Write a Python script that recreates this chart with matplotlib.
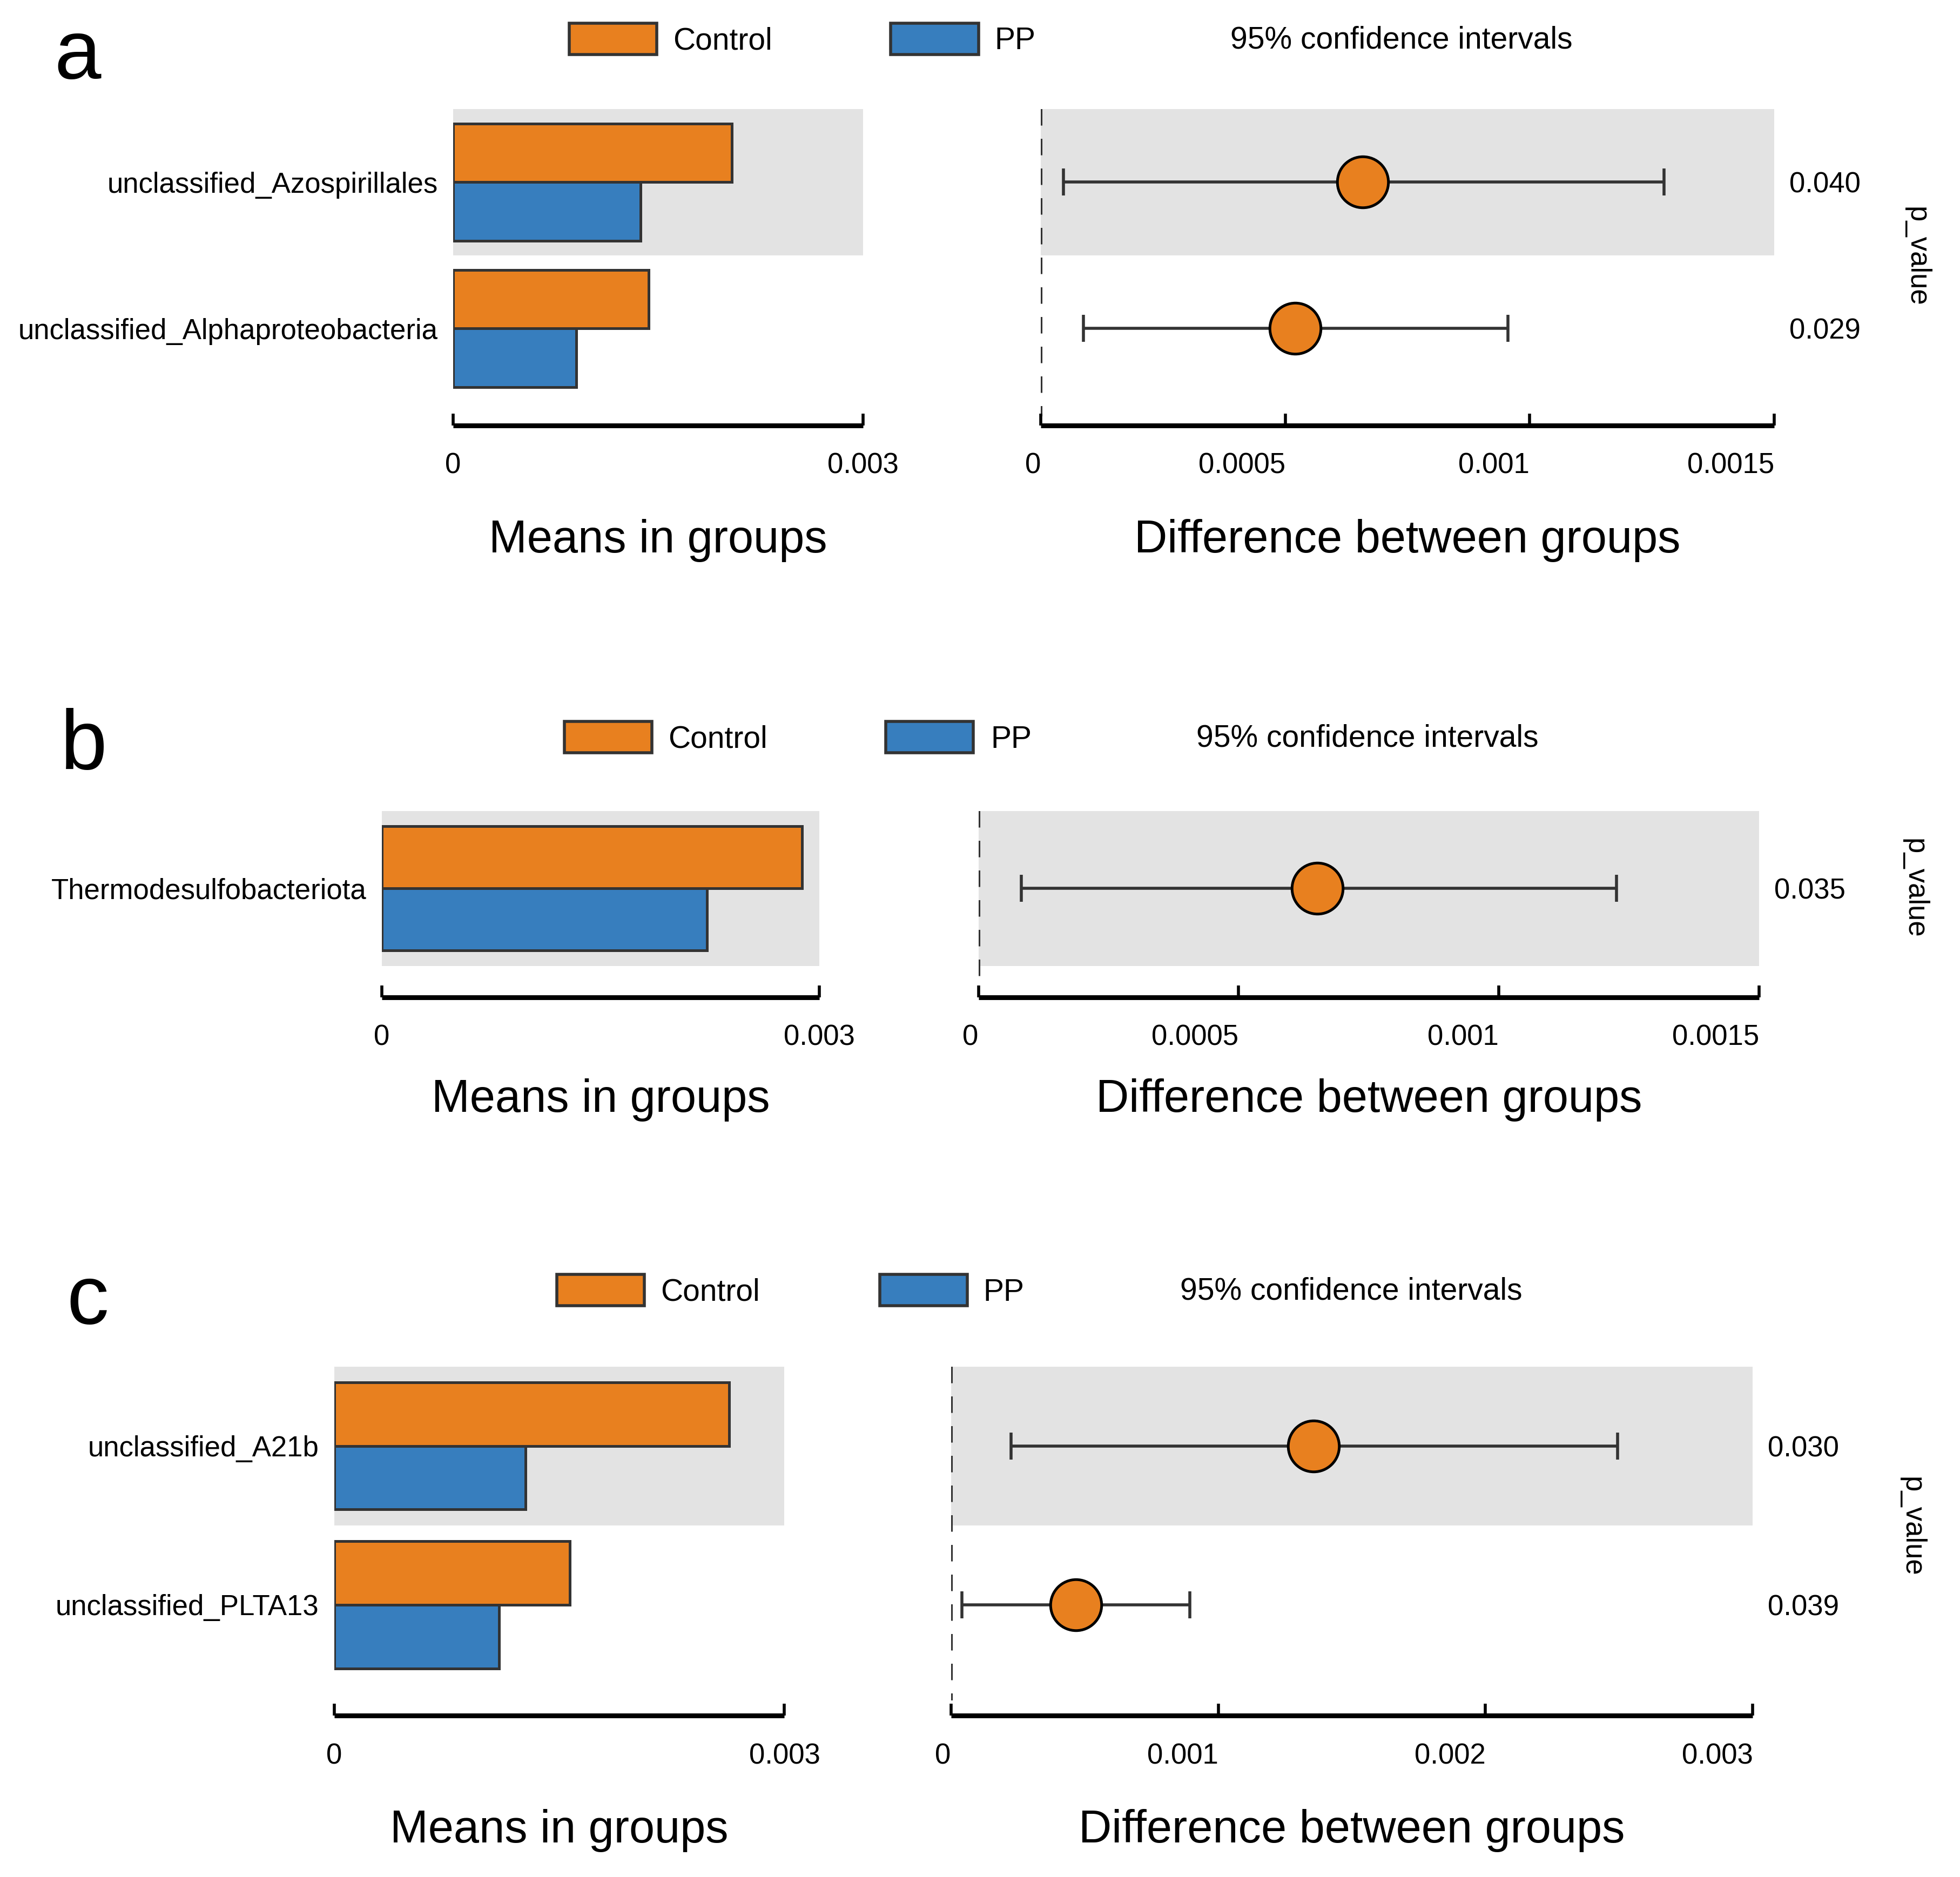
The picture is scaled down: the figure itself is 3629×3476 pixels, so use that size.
import matplotlib.pyplot as plt
from matplotlib.patches import Rectangle

plt.rcParams['font.family'] = ['Liberation Sans', 'DejaVu Sans']

# ---- data ----
a_taxa = ['unclassified_Azospirillales', 'unclassified_Alphaproteobacteria']
a_control = [0.00204, 0.00143]
a_pp = [0.00137, 0.00090]
a_diff = [0.000658, 0.00052]
a_low = [0.000046, 0.000087]
a_high = [0.001275, 0.000955]
a_pval = ['0.040', '0.029']
a_ticks = [0, 0.0005, 0.001, 0.0015]
a_ticklabels = ['0', '0.0005', '0.001', '0.0015']

b_taxa = ['Thermodesulfobacteriota']
b_control = [0.00288]
b_pp = [0.00223]
b_diff = [0.000651]
b_low = [0.000082]
b_high = [0.001226]
b_pval = ['0.035']
b_ticks = [0, 0.0005, 0.001, 0.0015]
b_ticklabels = ['0', '0.0005', '0.001', '0.0015']

c_taxa = ['unclassified_A21b', 'unclassified_PLTA13']
c_control = [0.00263, 0.00157]
c_pp = [0.001275, 0.00110]
c_diff = [0.001357, 0.000468]
c_low = [0.000225, 0.000042]
c_high = [0.002494, 0.000894]
c_pval = ['0.030', '0.039']
c_ticks = [0, 0.001, 0.002, 0.003]
c_ticklabels = ['0', '0.001', '0.002', '0.003']

means_max = 0.003

ORANGE = '#E8801F'
BLUE = '#377EBE'
BG = '#E3E3E3'
EDGE = '#333333'

# layout in reference pixels (as measured on the scaled-down preview)
W, H = 1567.0, 1500.0

fig = plt.figure(figsize=(18.15, 17.38), dpi=200)


def fx(x):
    return x / W


def fy(y):
    return 1 - y / H


def add_ax(x0, y0, x1, y1):
    return fig.add_axes([fx(x0), fy(y1), (x1 - x0) / W, (y1 - y0) / H])


def style_axis(ax, ticks, labels, ylim_bottom):
    ax.set_ylim(ylim_bottom, -0.5)
    for s in ['top', 'left', 'right']:
        ax.spines[s].set_visible(False)
    ax.spines['bottom'].set_linewidth(3.2)
    ax.spines['bottom'].set_capstyle('butt')
    ax.set_xticks(ticks)
    ax.set_xticklabels(labels, fontsize=19)
    ax.tick_params(axis='x', direction='in', length=8, width=2, pad=18)
    ax.set_facecolor('none')


def panel(letter, taxa, control, pp, diff, low, high, pval, ticks, ticklabels, lay):
    n = len(taxa)
    rows = list(range(n))
    lx0, ytop, lx1, yaxis = lay['left']
    rx0, _, rx1, _ = lay['right']
    ybot = -0.5 + (yaxis - ytop) / lay['row_h']

    # letter + legend
    fig.text(fx(lay['letter'][0]), fy(lay['letter'][1]), letter,
             fontsize=56, ha='center', va='center')
    ly = lay['leg_y']
    for bx, tx, col, name in [(lay['leg'][0], lay['leg'][1], ORANGE, 'Control'),
                              (lay['leg'][2], lay['leg'][3], BLUE, 'PP')]:
        fig.add_artist(Rectangle((fx(bx), fy(ly + 12.5)), 70 / W, 25 / H,
                                 transform=fig.transFigure, facecolor=col,
                                 edgecolor=EDGE, linewidth=2))
        fig.text(fx(tx), fy(ly + 2), name, fontsize=20.5, ha='left', va='center')
    fig.text(fx(lay['ci_x']), fy(ly + 1), '95% confidence intervals',
             fontsize=20.5, ha='center', va='center')

    # means in groups
    ax = add_ax(lx0, ytop, lx1, yaxis)
    for i in rows:
        if i % 2 == 0:
            ax.axhspan(i - 0.5, i + 0.5, color=BG, zorder=0, lw=0)
    ax.barh([r - 0.2 for r in rows], control, height=0.4, color=ORANGE,
            edgecolor=EDGE, linewidth=1.8, zorder=2)
    ax.barh([r + 0.2 for r in rows], pp, height=0.4, color=BLUE,
            edgecolor=EDGE, linewidth=1.8, zorder=2)
    ax.set_xlim(0, means_max)
    style_axis(ax, [0, means_max], ['0', '0.003'], ybot)
    ax.set_yticks(rows)
    ax.set_yticklabels(taxa, fontsize=19)
    ax.tick_params(axis='y', length=0, pad=10)
    ax.set_xlabel('Means in groups', fontsize=30.5)
    ax.xaxis.set_label_coords(0.5, -(lay['xlab_y'] - yaxis) / (yaxis - ytop))
    ax.xaxis.label.set_va('center')

    # difference between groups
    ax2 = add_ax(rx0, ytop, rx1, yaxis)
    for i in rows:
        if i % 2 == 0:
            ax2.axhspan(i - 0.5, i + 0.5, color=BG, zorder=0, lw=0)
    ax2.vlines(0, -0.5, n - 0.5 + 0.1, colors=EDGE, linestyles=(0, (5, 4)),
               linewidth=2.2, zorder=1)
    xerr = [[d - lo for d, lo in zip(diff, low)], [hi - d for d, hi in zip(diff, high)]]
    ax2.errorbar(diff, rows, xerr=xerr, fmt='none', ecolor=EDGE, elinewidth=2,
                 capsize=9, capthick=2, zorder=2)
    ax2.plot(diff, rows, 'o', markersize=34, markerfacecolor=ORANGE,
             markeredgecolor='black', markeredgewidth=1.8, zorder=3)
    ax2.set_xlim(0, ticks[-1])
    style_axis(ax2, ticks, ticklabels, ybot)
    for t in ax2.get_xticklabels():
        t.set_ha('right')
    ax2.set_yticks(rows)
    ax2.set_yticklabels(pval, fontsize=19)
    ax2.yaxis.tick_right()
    ax2.tick_params(axis='y', length=0, pad=10)
    ax2.set_xlabel('Difference between groups', fontsize=30.5)
    ax2.xaxis.set_label_coords(0.5, -(lay['xlab_y'] - yaxis) / (yaxis - ytop))
    ax2.xaxis.label.set_va('center')
    ax2.yaxis.set_label_position('right')
    ax2.set_ylabel('p_value', fontsize=19, rotation=270, va='center')
    ax2.yaxis.set_label_coords(1 + (lay['pv_x'] - rx1) / (rx1 - rx0),
                               (yaxis - lay['pv_y']) / (yaxis - ytop))


panel('a', a_taxa, a_control, a_pp, a_diff, a_low, a_high, a_pval, a_ticks, a_ticklabels,
      dict(left=(362, 87, 690, 340), right=(832, 87, 1418, 340), row_h=117,
           letter=(62, 45), leg_y=31, leg=(455, 538, 712, 795), ci_x=1120,
           xlab_y=432, pv_x=1532, pv_y=205))
panel('b', b_taxa, b_control, b_pp, b_diff, b_low, b_high, b_pval, b_ticks, b_ticklabels,
      dict(left=(305, 648, 655, 797), right=(782, 648, 1406, 797), row_h=124,
           letter=(67, 597), leg_y=589, leg=(451, 534, 708, 792), ci_x=1093,
           xlab_y=879, pv_x=1530, pv_y=710))
panel('c', c_taxa, c_control, c_pp, c_diff, c_low, c_high, c_pval, c_ticks, c_ticklabels,
      dict(left=(267, 1092, 627, 1371), right=(760, 1092, 1401, 1371), row_h=127,
           letter=(70, 1040), leg_y=1031, leg=(445, 528, 703, 786), ci_x=1080,
           xlab_y=1463, pv_x=1528, pv_y=1220))

fig.savefig('out.png', dpi=200, facecolor='white')
